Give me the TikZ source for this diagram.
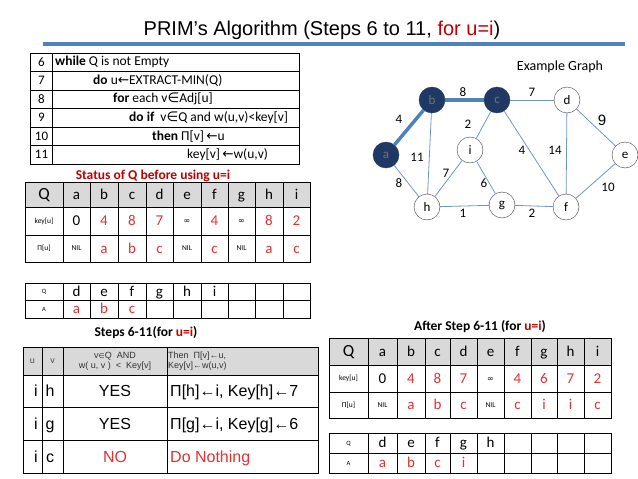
\documentclass[tikz,border=0pt]{standalone}
\usepackage{fontspec}
\setmainfont{Carlito}
\newfontfamily\arial{Liberation Sans}
\newfontfamily\djv{DejaVu Sans}
\usepackage{tikz}
\usetikzlibrary{positioning}
\definecolor{prblue}{HTML}{4F81BD}
\definecolor{prnavy}{HTML}{1F3864}
\definecolor{prred}{HTML}{C00000}
\definecolor{prval}{HTML}{E03232}
\definecolor{prgrey}{HTML}{D9D9D9}
\definecolor{predge}{HTML}{7096C4}
\newcommand{\fs}[1]{\fontsize{#1}{#1}\selectfont}
% text box of cap height only, so that cells share one baseline
\newcommand{\cc}[2]{{\fs{#1}\smash{#2}\rule{0pt}{0.64em}}}
\newcommand{\lar}{{\djv ←}}
\newcommand{\inn}{{\djv ∈}}
\newcommand{\rv}[1]{{\color{prval}\cc{15}{#1}}}
\newcommand{\bv}[1]{\cc{15}{#1}}
\newcommand{\tv}[1]{\cc{7.5}{#1}}
\newcommand{\infsym}{{\djv\cc{8}{∞}}}
\newcommand{\gpi}{Π}

\begin{document}
\begin{tikzpicture}[x=1pt,y=-1pt,
    vtx/.style={circle,draw=black!75,fill=white,minimum size=26pt,inner sep=0pt,font=\fs{13}},
    done/.style={vtx,draw=prnavy,fill=prnavy,text=black!55},
    wedge/.style={predge,line width=0.8pt},
    mst/.style={prblue,line width=3.5pt},
    wlab/.style={font=\fs{13},inner sep=0pt},
    cell/.style={inner sep=0pt,anchor=center},
    code/.style={inner sep=0pt,anchor=west,font=\fs{13.5}},
    grid/.style={black,line width=0.8pt},
    stepcell/.style={inner sep=0pt,anchor=base,font=\arial\fs{16}},
    tiny/.style={inner sep=0pt,font=\arial\fs{9},align=center},
    ttl/.style={font=\bfseries\fs{13.5}}]
  \useasboundingbox (0,0) rectangle (638,479);

  % title and rule
  \node[font=\arial\fs{20}] (title) at (322,30) {PRIM’s Algorithm (Steps 6 to 11, {\color{prred}for u=i})};
  \draw[prblue,line width=4pt] (43,44) -- (625,44);

  % pseudocode
  \draw[grid] (30,53) rectangle (299,164);
  \draw[grid] (52,53) -- (52,164);
  \foreach \r in {1,...,5}
    \draw[grid] (30,{53+\r*18.5}) -- (299,{53+\r*18.5});
  \foreach \n/\px/\t [count=\r from 0] in {
      6/55/{\textbf{while} Q is not Empty},
      7/93/{\textbf{do} u\lar EXTRACT-MIN(Q)},
      8/113/{\textbf{for} each v\inn Adj[u]},
      9/129/{\textbf{do if}~ v\inn Q and w(u,v)<key[v]},
      10/152/{\textbf{then} \gpi[v]\,\lar u},
      11/187/{key[v]\,\lar w(u,v)}} {
    \node[cell,font=\fs{13}] (ln\n) at (41.5,{62.25+\r*18.5}) {\n};
    \node[code] (code\n) at (\px,{62.25+\r*18.5}) {\t};
  }

  % status of Q before u=i
  \node[ttl,text=prred] (bttl) at (153,176) {Status of Q before using u=i};
  \fill[prgrey] (25,182) rectangle (310,207);
  \draw[grid] (25,182) rectangle (310,262);
  \draw[grid] (25,207) -- (310,207) (25,235) -- (310,235);
  \foreach \cx in {63,90,118,146,173,201,228,255,283}
    \draw[grid] (\cx,182) -- (\cx,262);
  \foreach \cx/\hd/\kv/\pv [count=\k] in {
      44/{\cc{17}{Q}}/{\tv{key[u]}}/{\tv{\gpi[u]}},
      76.5/a/{\bv0}/{\tv{NIL}},
      104/b/{\rv4}/{\rv a},
      132/c/{\rv8}/{\rv b},
      159.5/d/{\rv7}/{\rv c},
      187/e/{\infsym}/{\tv{NIL}},
      214.5/f/{\rv4}/{\rv c},
      241.5/g/{\infsym}/{\tv{NIL}},
      269/h/{\rv8}/{\rv a},
      296.5/i/{\rv2}/{\rv c}} {
    \node[cell] (bh\k) at (\cx,194.5) {\bv{\hd}};
    \node[cell] (bk\k) at (\cx,221) {\kv};
    \node[cell] (bp\k) at (\cx,248.5) {\pv};
  }

  % Q / A before
  \draw[grid] (25,283) rectangle (310,318);
  \draw[grid] (25,300) -- (310,300);
  \foreach \cx in {63,90,118,146,173,201,228,255,283}
    \draw[grid] (\cx,283) -- (\cx,318);
  \foreach \cx/\qv/\av [count=\k] in {
      44/{\cc{6.5}{Q}}/{\cc{6.5}{A}}, 76.5/{\bv d}/{\rv a}, 104/{\bv e}/{\rv b},
      132/{\bv f}/{\rv c}, 159.5/{\bv g}/{}, 187/{\bv h}/{}, 214.5/{\bv i}/{}} {
    \node[cell] (bq\k) at (\cx,291.5) {\qv};
    \node[cell] (ba\k) at (\cx,309) {\av};
  }

  % steps 6-11 for u=i
  \node[ttl] (sttl) at (146,333) {Steps 6-11(for {\color{prred}u=i})};
  \fill[prgrey] (23,347) rectangle (318,375);
  \draw[grid] (23,347) rectangle (318,473);
  \foreach \ry in {375,407,440}
    \draw[grid] (23,\ry) -- (318,\ry);
  \foreach \cx in {42,63,167}
    \draw[grid] (\cx,347) -- (\cx,473);
  \node[tiny,text=black!70] (su) at (32.5,361) {u};
  \node[tiny,text=black!70] (sv) at (52.5,361) {v};
  \node[tiny,text=black!80] (scond) at (115,361) {v{\djv\fs{7}∈}Q~ AND\\[1pt]w( u, v )~ <~ Key[v]};
  \node[tiny,text=black!80,anchor=west,align=left] (sthen) at (168,361) {Then~ \gpi[v]←u,\\[1pt]Key[v]←w(u,v)};
  \foreach \ry/\uu/\vv/\cond/\act [count=\k] in {
      396.5/i/h/YES/{\gpi[h]←i, Key[h]←7},
      429.5/i/g/YES/{\gpi[g]←i, Key[g]←6},
      462/i/c/{\color{prval}NO}/{\color{prval}Do Nothing}} {
    \node[stepcell] (su\k) at (36,\ry) {\uu};
    \node[stepcell] (sv\k) at (50,\ry) {\vv};
    \node[stepcell] (sc\k) at (115,\ry) {\cond};
    \node[stepcell,anchor=base west] (sa\k) at (170,\ry) {\act};
  }

  % after steps 6-11
  \node[ttl] (attl) at (480,327) {After Step 6-11 (for {\color{prred}u=i})};
  \fill[prgrey] (329,338) rectangle (611,365);
  \draw[grid] (329,338) rectangle (611,418);
  \draw[grid] (329,365) -- (611,365) (329,392) -- (611,392);
  \foreach \cx in {368,397,425,450,477,504,531,557,584}
    \draw[grid] (\cx,338) -- (\cx,418);
  \foreach \cx/\hd/\kv/\pv [count=\k] in {
      348.5/{\cc{17}{Q}}/{\tv{key[u]}}/{\tv{\gpi[u]}},
      382.5/a/{\bv0}/{\tv{NIL}},
      411/b/{\rv4}/{\rv a},
      437.5/c/{\rv8}/{\rv b},
      463.5/d/{\rv7}/{\rv c},
      490.5/e/{\infsym}/{\tv{NIL}},
      517.5/f/{\rv4}/{\rv c},
      544/g/{\rv6}/{\rv i},
      570.5/h/{\rv7}/{\rv i},
      597.5/i/{\rv2}/{\rv c}} {
    \node[cell] (ah\k) at (\cx,351.5) {\bv{\hd}};
    \node[cell] (ak\k) at (\cx,378.5) {\kv};
    \node[cell] (ap\k) at (\cx,405) {\pv};
  }
  \draw[grid] (329,433) rectangle (611,473);
  \draw[grid] (329,453) -- (611,453);
  \foreach \cx in {368,397,425,450,477,504,531,557,584}
    \draw[grid] (\cx,433) -- (\cx,473);
  \foreach \cx/\qv/\av [count=\k] in {
      348.5/{\cc{6.5}{Q}}/{\cc{6.5}{A}}, 382.5/{\bv d}/{\rv a}, 411/{\bv e}/{\rv b},
      437.5/{\bv f}/{\rv c}, 463.5/{\bv g}/{\rv i}, 490.5/{\bv h}/{}} {
    \node[cell] (aq\k) at (\cx,443) {\qv};
    \node[cell] (aa\k) at (\cx,463) {\av};
  }

  % example graph
  \node[font=\fs{14}] (gttl) at (560,67) {Example Graph};
  \node[done] (a) at (386,155) {a};
  \node[done] (b) at (432,100) {b};
  \node[done] (c) at (497,100) {c};
  \node[vtx] (d) at (567,100) {d};
  \node[vtx] (e) at (625,155) {e};
  \node[vtx] (i) at (470,150) {i};
  \node[vtx] (h) at (427,207) {h};
  \node[vtx] (g) at (502,205) {g};
  \node[vtx] (f) at (566,207) {f};
  \draw[mst] (a) -- (b);
  \draw[mst] (b) -- (c);
  \draw[wedge] (c) -- (d);
  \draw[wedge] (d) -- (e);
  \draw[wedge] (c) -- (i);
  \draw[wedge] (b) -- (h);
  \draw[wedge] (c) -- (f);
  \draw[wedge] (d) -- (f);
  \draw[wedge] (h) -- (i);
  \draw[wedge] (a) -- (h);
  \draw[wedge] (i) -- (g);
  \draw[wedge] (e) -- (f);
  \draw[wedge] (h) -- (g);
  \draw[wedge] (g) -- (f);
  \foreach \lx/\ly/\w [count=\k] in {
      399/119/4, 463/92/8, 532/92/7, 468/124/2, 417/157/11, 522/150/4,
      555/150/14, 446/173/7, 399/183/8, 484/183/6, 608/187/10, 463/213/1, 532/213/2}
    \node[wlab] (w\k) at (\lx,\ly) {\w};
  \node[wlab,font=\arial\fs{15}] (w9) at (602,120) {9};
\end{tikzpicture}
\end{document}
